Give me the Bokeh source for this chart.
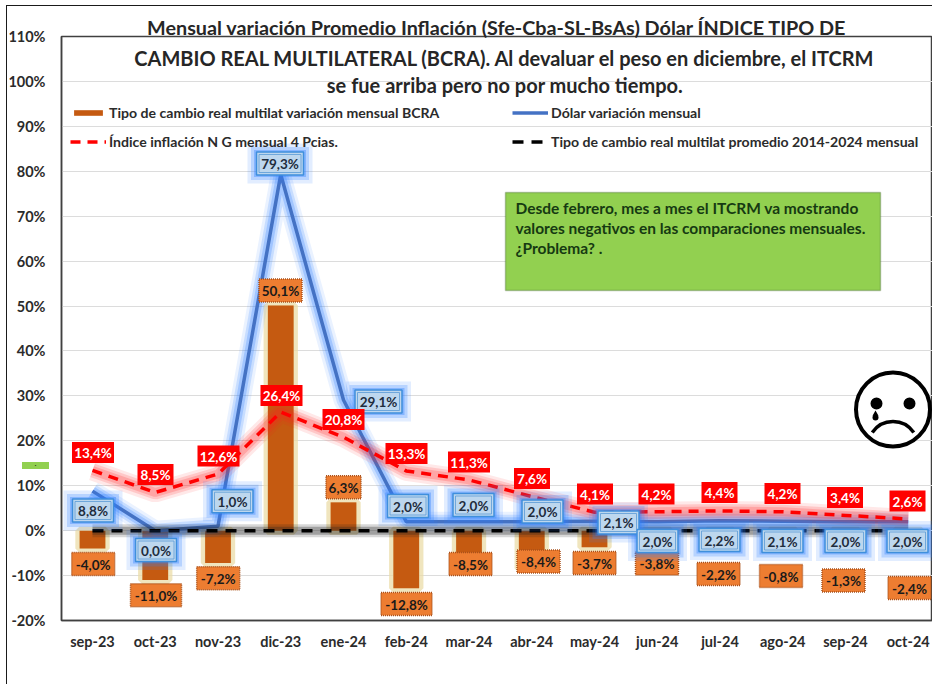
from bokeh.plotting import figure
from bokeh.models import (ColumnDataSource, Range1d, FixedTicker, Legend, LegendItem,
                          BoxAnnotation, Label, InlineStyleSheet)
from bokeh.core.properties import value
from bokeh.embed import file_html
from bokeh.resources import INLINE

months = ["sep-23", "oct-23", "nov-23", "dic-23", "ene-24", "feb-24", "mar-24",
          "abr-24", "may-24", "jun-24", "jul-24", "ago-24", "sep-24", "oct-24"]
itcrm = [-4.0, -11.0, -7.2, 50.1, 6.3, -12.8, -8.5, -8.4, -3.7, -3.8, -2.2, -0.8, -1.3, -2.4]
dolar = [8.8, 0.0, 1.0, 79.3, 29.1, 2.0, 2.0, 2.0, 2.1, 2.0, 2.2, 2.1, 2.0, 2.0]
inflacion = [13.4, 8.5, 12.6, 26.4, 20.8, 13.3, 11.3, 7.6, 4.1, 4.2, 4.4, 4.2, 3.4, 2.6]
promedio = [0.0] * 14
y_ticks = list(range(-20, 111, 10))

title_lines = ["Mensual variación Promedio Inflación (Sfe-Cba-SL-BsAs) Dólar ÍNDICE TIPO DE",
               "CAMBIO REAL MULTILATERAL (BCRA). Al devaluar el peso en diciembre, el ITCRM",
               "se fue arriba pero no por mucho tiempo."]
note_lines = ["Desde febrero, mes a mes el ITCRM va mostrando",
              "valores negativos en las comparaciones  mensuales.",
              "¿Problema? ."]

# Label placement, in page pixels
orange_px = [(92.7, 563.5), (155.5, 594.7), (217.7, 577.7), (280, 290), (343, 486.7), (406, 603.5),
             (470, 563.5), (538, 561), (594, 562.5), (656.5, 563), (718, 573.5), (780.5, 575.5),
             (843, 580), (909, 587.5)]
red_px = [(92.5, 452), (155, 474), (218, 455.5), (281, 395), (343, 419), (406, 453), (468.5, 461.5),
          (531.5, 478), (594.5, 493.5), (656, 493.5), (719, 492), (782, 493), (844.5, 497), (907, 500.5)]
blue_px = [(92.5, 510), (155.5, 549.5), (232, 500.7), (279.5, 163), (378, 401), (407.5, 505.5), (473, 504.5),
           (542, 511), (618, 522), (657, 540.5), (719, 539.5), (782, 540.5), (845, 540.5), (907, 540.5)]

W, H = 932, 684
LEFT, TOP, BOTTOM = 61, 36, 620
FONT = "Lato"
STEP = 62.75
X0 = 92.0
UNIT = (BOTTOM - TOP) / 130.0


def xd(px):
    return (px - X0) / STEP


def yd(py):
    return -20 + (BOTTOM - py) / UNIT


p = figure(width=W, height=H, output_backend="svg", toolbar_location=None,
           x_range=Range1d(xd(LEFT), xd(W)), y_range=Range1d(-20, 110),
           min_border_left=LEFT, min_border_right=0, min_border_top=TOP, min_border_bottom=H - BOTTOM,
           title=title_lines[0])
p.title.text_font = FONT
p.title.text_font_style = "bold"
p.title.text_font_size = "19.8px"
p.title.text_color = "#262626"
p.title.align = "center"
p.title.offset = 10
p.title.standoff = -5

# Outer frame of the picture and the small stray green mark, both outside the plot frame
p.stylesheets = [InlineStyleSheet(css="""
:host { position: relative; overflow: hidden; }
:host::after { content: ""; position: absolute; left: 6px; top: 5px; width: 960px; height: 720px;
               border: 1.5px solid #1a1a1a; pointer-events: none; z-index: 5; }
:host::before { content: "."; position: absolute; left: 22px; top: 462px; width: 27px; height: 7px;
                background: #92D050; color: #1a1a1a; font-size: 9px; line-height: 3px; text-align: center;
                pointer-events: none; z-index: 5; }
""")]

p.background_fill_color = "white"
p.border_fill_color = "white"
p.outline_line_color = "#404040"
p.outline_line_width = 1.5

p.xgrid.grid_line_color = None
p.ygrid.grid_line_color = "#DCDCDC"
p.ygrid.grid_line_width = 1

p.yaxis.ticker = FixedTicker(ticks=y_ticks)
p.yaxis.major_label_overrides = {t: f"{t}%" for t in y_ticks}
p.xaxis.ticker = FixedTicker(ticks=list(range(len(months))))
p.xaxis.major_label_overrides = {i: m for i, m in enumerate(months)}
for ax in (p.xaxis[0], p.yaxis[0]):
    ax.major_tick_line_color = None
    ax.minor_tick_line_color = None
    ax.major_label_text_font = FONT
    ax.major_label_text_font_style = "bold"
    ax.major_label_text_font_size = "14.5px"
    ax.major_label_text_color = "#2b2b2b"
    ax.axis_line_color = "#404040"
    ax.axis_line_width = 1.5
p.xaxis.major_label_standoff = 6
p.yaxis.major_label_standoff = 10

xs = list(range(len(months)))
src = ColumnDataSource(dict(x=xs, itcrm=itcrm, dolar=dolar, inflacion=inflacion, promedio=promedio))

# Bars with their pale glow
p.vbar(x="x", top="itcrm", width=0.42, source=src, fill_color="#E6D394", line_color="#EBDCA8", line_width=8, line_alpha=0.75)
bars = p.vbar(x="x", top="itcrm", width=0.41, source=src, fill_color="#C55A11", line_color=None)

# Blue line with glow
for lw, a in ((20, 0.10), (14, 0.18), (9, 0.25)):
    p.line("x", "dolar", source=src, line_color="#2F80FF", line_width=lw, line_alpha=a)
blue = p.line("x", "dolar", source=src, line_color="#4472C4", line_width=3.5)

# Red dashed line with glow
for lw, a in ((20, 0.10), (14, 0.16), (9, 0.2)):
    p.line("x", "inflacion", source=src, line_color="#FF2020", line_width=lw, line_alpha=a)
red = p.line("x", "inflacion", source=src, line_color="#FF0000", line_width=3.5, line_dash="10 7")

# Black dashed line with grey glow
for lw, a in ((13, 0.18), (8, 0.3)):
    p.line("x", "promedio", source=src, line_color="#222222", line_width=lw, line_alpha=a)
black = p.line("x", "promedio", source=src, line_color="black", line_width=3.5, line_dash="11 8")


def fmt(v):
    return f"{v:.1f}%".replace(".", ",")


def label_source(vals, pos, per_char, extra):
    texts = [fmt(v) for v in vals]
    return ColumnDataSource(dict(x=[xd(c[0]) for c in pos], y=[yd(c[1]) for c in pos], t=texts,
                                 w=[per_char * len(t) + extra for t in texts]))


def label_text(source, color):
    p.text("x", "y", text="t", source=source, text_color=color, text_align="center",
           text_baseline="middle", text_font=value(FONT), text_font_style="bold",
           text_font_size="13.5px", y_offset=0.5)


# Orange labels
s_o = label_source(itcrm, orange_px, 8, 3)
p.rect("x", "y", width="w", height=23, width_units="screen", height_units="screen", source=s_o,
       fill_color="#ED7D31", line_color="#A9501A", line_width=1.5, line_dash="1 1")
label_text(s_o, "#1a1a1a")

# Blue labels with glow
s_b = label_source(dolar, blue_px, 6, 17)
s_b.data["wg1"] = [w + 18 for w in s_b.data["w"]]
s_b.data["wg2"] = [w + 11 for w in s_b.data["w"]]
s_b.data["wg3"] = [w + 5 for w in s_b.data["w"]]
s_b.data["wi"] = [w - 5 for w in s_b.data["w"]]
for wcol, h, a in (("wg1", 40, 0.14), ("wg2", 33, 0.24), ("wg3", 27, 0.36)):
    p.rect("x", "y", width=wcol, height=h, width_units="screen", height_units="screen", source=s_b,
           fill_color="#2F80FF", fill_alpha=a, line_color=None)
p.rect("x", "y", width="w", height=23, width_units="screen", height_units="screen", source=s_b,
       fill_color="#BDD7EE", line_color="#3F8FDC", line_width=1.5)
p.rect("x", "y", width="wi", height=18, width_units="screen", height_units="screen", source=s_b,
       fill_alpha=0, line_color="#5B9BD5", line_width=0.8)
label_text(s_b, "#1f2d3d")

# Red labels
s_r = label_source(inflacion, red_px, 6, 12)
p.rect("x", "y", width="w", height=21, width_units="screen", height_units="screen", source=s_r,
       fill_color="#FF0000", line_color=None)
label_text(s_r, "white")

# Note box
note = BoxAnnotation(left=xd(505), right=xd(880), top=yd(192), bottom=yd(290), fill_color="#92D050",
                     fill_alpha=1, line_color="#2F4F1F", line_width=1.5, level="annotation")
p.add_layout(note)
for i, line in enumerate(note_lines):
    p.add_layout(Label(x=xd(515), y=yd(207 + i * 20.3), text=line, text_font=FONT, text_font_style="bold",
                       text_font_size="15.5px", text_color="#163A12", text_baseline="middle", level="annotation"))

# Remaining title lines
for line, py, in zip(title_lines[1:], (57, 84)):
    p.add_layout(Label(x=xd(504.5), y=yd(py), text=line, text_font=FONT, text_font_style="bold",
                       text_font_size="20px", text_color="#262626", text_align="center",
                       text_baseline="middle", level="annotation"))

# Sad face
face_x, face_y = xd(892.5), yd(409)
p.scatter([face_x], [face_y], size=74, marker="circle", fill_color="white", line_color="black", line_width=4)
p.scatter([xd(876), xd(909)], [yd(403)] * 2, size=12, marker="circle", fill_color="black", line_color=None)
p.scatter([xd(875)], [yd(417)], size=6, marker="circle", fill_color="black", line_color=None)
p.scatter([xd(875)], [yd(413.5)], size=6, marker="triangle", fill_color="black", line_color=None)
p.arc([face_x], [yd(446)], radius=25, radius_units="screen", start_angle=0.59, end_angle=2.55,
      line_color="black", line_width=3.5)

# Legend
common = dict(background_fill_alpha=0, border_line_color=None, padding=0, margin=0, spacing=11, glyph_width=36,
              glyph_height=7, label_height=18, label_standoff=3, label_text_font=FONT,
              label_text_font_style="bold", label_text_font_size="14.1px", label_text_color="#2b2b2b",
              orientation="vertical")
leg1 = Legend(items=[LegendItem(label="Tipo de cambio real multilat variación mensual BCRA", renderers=[bars]),
                     LegendItem(label="Índice inflación N G mensual 4 Pcias.", renderers=[red])],
              location=(9, 470), **common)
leg2 = Legend(items=[LegendItem(label="Dólar variación mensual", renderers=[blue]),
                     LegendItem(label="Tipo de cambio real multilat promedio 2014-2024 mensual", renderers=[black])],
              location=(451, 470), **common)
p.add_layout(leg1)
p.add_layout(leg2)

open("out.html", "w").write(file_html(p, INLINE))
